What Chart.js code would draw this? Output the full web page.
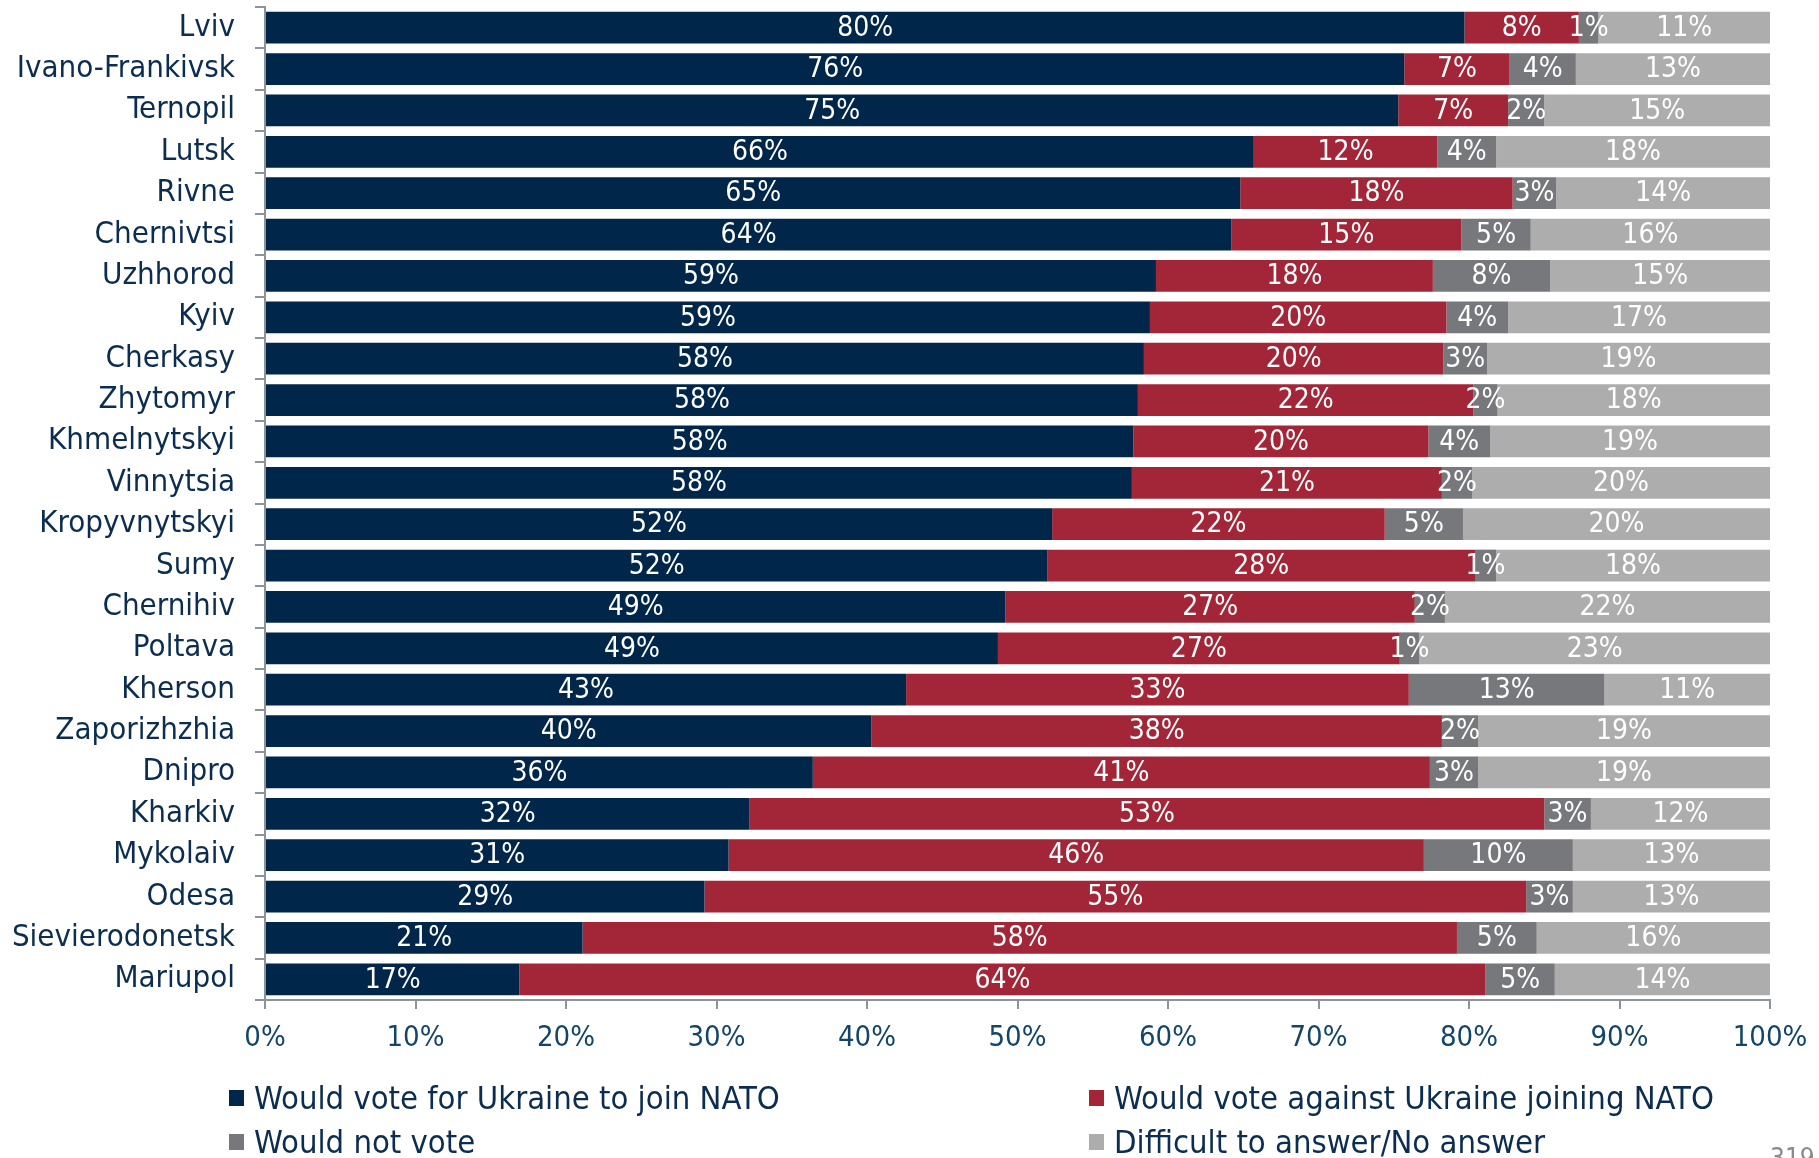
<!DOCTYPE html>
<html>
<head>
<meta charset="utf-8">
<script src="https://cdn.jsdelivr.net/npm/chart.js@4"></script>
<style>
  html, body { margin: 0; padding: 0; background: #fff; }
  body { width: 1819px; height: 1158px; overflow: hidden; position: relative; }
  #wrap { position: absolute; left: 0; top: 0; width: 1819px; height: 1158px; }
  .legend-item { position: absolute; display: flex; align-items: center; white-space: nowrap;
    font-family: 'DejaVu Sans Condensed', 'Liberation Sans Narrow', sans-serif; font-size: 32.5px; color: #0b2d4f; }
  .legend-item span.box { display: inline-block; width: 15px; height: 16px; margin-right: 10px; }
  #page { position: absolute; left: 1770px; top: 1143px; font-family: 'DejaVu Sans Condensed', sans-serif;
    font-size: 26px; color: #8a8a8a; }
</style>
</head>
<body>
<div id="wrap"><canvas id="natoChart" width="1819" height="1158"></canvas></div>
<div id="legend"></div>
<div id="page">319</div>
<script>
const categories = ['Lviv', 'Ivano-Frankivsk', 'Ternopil', 'Lutsk', 'Rivne', 'Chernivtsi', 'Uzhhorod', 'Kyiv',
  'Cherkasy', 'Zhytomyr', 'Khmelnytskyi', 'Vinnytsia', 'Kropyvnytskyi', 'Sumy', 'Chernihiv', 'Poltava',
  'Kherson', 'Zaporizhzhia', 'Dnipro', 'Kharkiv', 'Mykolaiv', 'Odesa', 'Sievierodonetsk', 'Mariupol'];

const voteFor = [79.7, 75.7, 75.3, 65.7, 64.8, 64.2, 59.2, 58.8, 58.4, 58.0, 57.7, 57.6, 52.3, 52.0, 49.2, 48.7,
  42.6, 40.3, 36.4, 32.2, 30.8, 29.2, 21.1, 16.9];
const voteAgainst = [7.6, 7.0, 7.3, 12.2, 18.1, 15.3, 18.4, 19.7, 19.9, 22.3, 19.6, 20.6, 22.1, 28.4, 27.2, 26.7,
  33.4, 37.9, 41.0, 52.8, 46.2, 54.6, 58.1, 64.2];
const notVote = [1.3, 4.4, 2.4, 3.9, 2.9, 4.6, 7.8, 4.1, 2.9, 1.6, 4.1, 2.0, 5.2, 1.4, 2.0, 1.3,
  13.0, 2.4, 3.2, 3.1, 9.9, 3.1, 5.3, 4.6];
const difficult = [11.4, 12.9, 15.0, 18.2, 14.2, 15.9, 14.6, 17.4, 18.8, 18.1, 18.6, 19.8, 20.4, 18.2, 21.6, 23.3,
  11.0, 19.4, 19.4, 11.9, 13.1, 13.1, 15.5, 14.3];

const seriesNames = ['Would vote for Ukraine to join NATO', 'Would vote against Ukraine joining NATO',
  'Would not vote', 'Difficult to answer/No answer'];
const seriesColors = ['#00264a', '#a32638', '#77787b', '#adadae'];

const FONT = "'DejaVu Sans Condensed', 'Liberation Sans Narrow', sans-serif";
const AXIS_COLOR = '#8c949b';

// white value labels centred in each segment
const barLabels = {
  id: 'barLabels',
  afterDatasetsDraw(chart) {
    const ctx = chart.ctx;
    ctx.save();
    ctx.font = '28px ' + FONT;
    ctx.fillStyle = '#ffffff';
    ctx.textAlign = 'center';
    ctx.textBaseline = 'middle';
    chart.data.datasets.forEach((ds, i) => {
      chart.getDatasetMeta(i).data.forEach((bar, j) => {
        const x = (bar.base + bar.x) / 2;
        ctx.fillText(Math.round(ds.data[j]) + '%', x, bar.y + 1);
      });
    });
    ctx.restore();
  }
};

const datasets = [voteFor, voteAgainst, notVote, difficult].map((d, i) => ({
  label: seriesNames[i],
  data: d,
  backgroundColor: seriesColors[i],
  borderWidth: 0,
  categoryPercentage: 0.77,
  barPercentage: 1
}));

new Chart(document.getElementById('natoChart'), {
  type: 'bar',
  data: { labels: categories, datasets: datasets },
  options: {
    indexAxis: 'y',
    responsive: false,
    animation: false,
    devicePixelRatio: 1,
    layout: { padding: { top: 7, right: 49, bottom: 0, left: 0 } },
    plugins: { legend: { display: false }, tooltip: { enabled: false } },
    scales: {
      x: {
        stacked: true,
        min: 0,
        max: 100,
        afterFit: (scale) => { scale.height = 158; scale.paddingLeft = 0; scale.paddingRight = 0; },
        ticks: {
          stepSize: 10,
          callback: (v) => v + '%',
          font: { family: FONT, size: 29 },
          color: '#124567',
          padding: 12,
          maxRotation: 0
        },
        grid: { drawOnChartArea: false, drawTicks: true, tickLength: 9, color: AXIS_COLOR, lineWidth: 2 },
        border: { display: true, color: AXIS_COLOR, width: 2 }
      },
      y: {
        stacked: true,
        afterFit: (scale) => { scale.width = 265; scale.paddingTop = 0; scale.paddingBottom = 0; },
        ticks: {
          font: { family: FONT, size: 31 },
          color: '#0b2d4f',
          padding: 20,
          autoSkip: false
        },
        grid: { offset: true, drawOnChartArea: false, drawTicks: true, tickLength: 10, color: AXIS_COLOR, lineWidth: 2 },
        border: { display: true, color: AXIS_COLOR, width: 2 }
      }
    }
  },
  plugins: [barLabels]
});

// two-column legend under the axis
const legendPos = [[229, 1079], [1089, 1079], [229, 1123], [1089, 1123]];
const legendEl = document.getElementById('legend');
seriesNames.forEach((name, k) => {
  const item = document.createElement('div');
  item.className = 'legend-item';
  item.style.left = legendPos[k][0] + 'px';
  item.style.top = legendPos[k][1] + 'px';
  item.innerHTML = '<span class="box" style="background:' + seriesColors[k] + '"></span>' + name;
  legendEl.appendChild(item);
});
</script>
</body>
</html>
